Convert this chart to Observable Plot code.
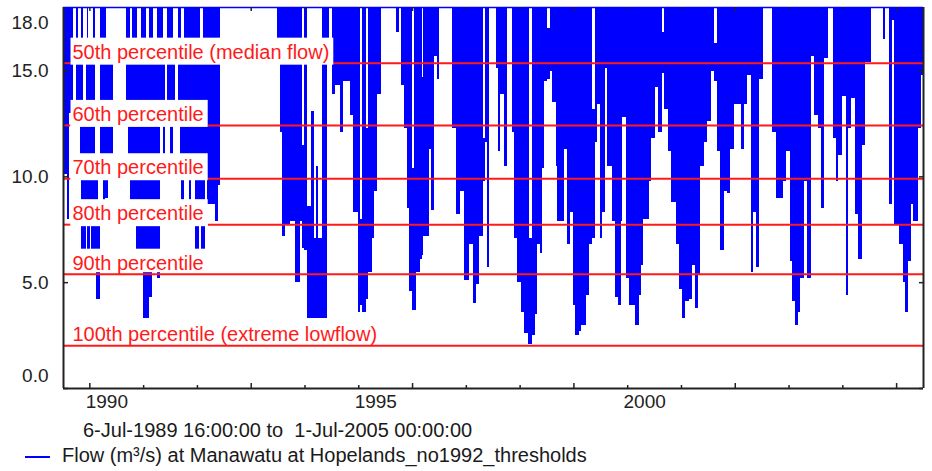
<!DOCTYPE html>
<html><head><meta charset="utf-8">
<script src="https://cdn.jsdelivr.net/npm/d3@7"></script>
<script src="https://cdn.jsdelivr.net/npm/@observablehq/plot@0.6"></script>
<style>
body{margin:0;background:#fff;font-family:"Liberation Sans",Arial,sans-serif;}
#wrap{width:932px;height:471px;position:relative;overflow:hidden;background:#fff}
#chart svg{display:block}
.cap{font-size:20px;line-height:25px;height:25px;color:#1a1a1a;white-space:pre;}
</style></head><body>
<div id="wrap">
<div id="chart"></div>
<div class="cap" id="range" style="padding-left:83px"></div>
<div class="cap" style="display:flex;align-items:flex-start;"><svg width="62" height="25" style="flex:none"><line x1="25" x2="50" y1="14" y2="14" stroke="#0000ff" stroke-width="2"/></svg><span id="series"></span></div>
</div>
<script>
// Flow periods: [start (decimal year), min flow, max flow] (m³/s); null = above the chart
const flowPeriods = [
[1989.51,10.1,18],[1989.58,8.0,18],[1989.62,13.0,18],[1989.70,null,null],[1989.745,15.9,18],
[1989.76,13.0,18],[1989.79,13.0,15.9],[1989.82,10.5,15.9],[1989.85,6.0,18],[1989.88,6.0,13.0],
[1989.93,8.3,15.9],[1989.956,6.0,18],[1989.975,6.0,15.9],[1990.006,8.3,15.9],[1990.037,6.0,15.9],
[1990.068,6.0,18],[1990.111,6.0,10.5],[1990.13,4.2,10.5],[1990.161,4.2,8.3],[1990.192,6.0,15.9],
[1990.204,10.5,18],[1990.253,7.7,18],[1990.284,9.0,18],[1990.315,9.0,15.9],[1990.346,10.5,15.9],
[1990.439,null,null],[1990.687,13.0,18],[1990.718,10.5,18],[1990.749,8.3,15.9],[1990.799,8.3,18],
[1990.861,6.0,18],[1990.885,6.0,15.9],[1990.966,6.0,18],[1990.997,3.3,18],[1991.059,3.3,15.9],
[1991.108,4.3,18],[1991.17,6.0,18],[1991.183,6.0,15.9],[1991.263,5.2,18],[1991.307,13.0,18],
[1991.369,10.5,15.9],[1991.406,null,null],[1991.443,13.0,18],[1991.493,10.5,18],[1991.555,13.0,15.9],
[1991.586,null,null],[1991.648,13.0,18],[1991.679,10.5,18],[1991.71,8.3,15.9],[1991.753,10.5,18],
[1991.846,8.3,18],[1991.895,10.5,18],[1991.957,6.0,18],[1992.038,8.3,18],[1992.05,8.3,15.9],
[1992.081,6.0,15.9],[1992.112,6.0,18],[1992.143,10.5,18],[1992.187,8.7,18],[1992.329,7.9,18],
[1992.391,9.6,18],[1992.422,null,null],
[1993.48,16.0,18],[1993.54,12.1,18],[1993.59,7.2,18],[1993.64,7.7,18],[1993.73,7.9,18],
[1993.82,5.0,18],[1993.91,7.9,18],[1993.95,6.6,11.5],[1993.99,6.5,18],[1994.04,3.3,8.6],
[1994.12,3.3,13.1],[1994.17,3.3,7.1],[1994.21,3.3,10.5],[1994.26,3.3,7.1],[1994.33,3.3,18],
[1994.41,16.0,18],[1994.45,null,null],[1994.52,13.9,18],[1994.57,14.3,18],[1994.66,12.1,18],
[1994.72,14.5,18],[1994.84,12.9,18],[1994.91,8.3,18],[1995.00,3.6,18],[1995.04,3.9,8.0],
[1995.07,3.6,18],[1995.15,4.2,12.3],[1995.19,5.5,18],[1995.25,7.1,18],[1995.30,9.3,18],
[1995.34,13.9,18],[1995.43,null,null],[1995.71,16.8,18],[1995.76,null,null],[1995.80,14.3,18],
[1995.85,12.3,18],
[1995.90,8.5,18],[1995.95,4.6,18],[1995.99,3.7,10.4],[1996.03,3.7,18],[1996.08,5.5,18],
[1996.14,6.1,18],[1996.18,6.3,14.7],[1996.21,7.2,18],[1996.31,11.3,18],[1996.35,8.4,18],
[1996.40,15.7,18],[1996.46,14.6,18],[1996.50,null,null],[1996.74,12.3,18],[1996.82,8.2,18],
[1996.90,9.3,18],[1996.96,5.1,18],[1997.05,6.8,18],[1997.14,4.0,18],[1997.19,4.9,18],
[1997.25,7.2,18],[1997.32,9.8,11.8],[1997.36,11.6,18],[1997.39,5.7,18],[1997.43,null,null],
[1997.56,15.1,18],[1997.60,11.2,18],[1997.64,13.9,18],[1997.71,10.5,18],[1997.76,null,null],
[1997.85,12.1,18],[1997.90,7.1,18],[1997.96,5.0,18],[1998.02,3.6,18],[1998.09,2.6,18],
[1998.15,2.1,18],[1998.18,2.1,7.1],[1998.23,2.5,18],[1998.28,3.5,18],[1998.32,6.8,18],
[1998.37,6.4,18],[1998.42,10.4,18],[1998.46,14.5,18],[1998.51,14.6,17.0],[1998.56,15.0,18],
[1998.61,13.5,18],[1998.67,10.5,18],[1998.70,7.9,18],[1998.82,11.3,18],[1998.88,6.8,18],
[1998.94,8.3,18],[1998.99,3.9,18],[1999.03,2.5,18],
[1999.10,2.7,18],[1999.15,3.0,18],[1999.23,4.4,18],[1999.29,6.8,18],[1999.35,7.1,13.2],
[1999.40,11.6,18],[1999.44,13.4,18],[1999.49,7.1,18],[1999.54,8.3,18],[1999.58,15.1,18],
[1999.63,10.5,18],[1999.72,7.9,18],[1999.77,4.3,18],[1999.83,3.9,18],[1999.88,7.9,18],
[1999.91,12.8,18],[1999.97,5.2,18],[2000.03,3.9,18],[2000.09,3.9,18],[2000.15,3.0,18],
[2000.22,4.4,18],[2000.25,5.8,18],[2000.29,8.0,18],[2000.34,8.0,18],[2000.40,9.8,18],
[2000.45,11.8,18],[2000.51,14.2,18],[2000.58,12.1,18],[2000.64,14.9,16.8],[2000.69,13.2,18],
[2000.76,11.2,18],[2000.81,8.8,18],[2000.90,6.8,18],[2000.96,4.7,18],[2001.02,3.3,18],
[2001.08,4.1,18],[2001.15,4.2,18],[2001.21,5.8,18],[2001.27,3.8,18],[2001.31,5.4,18],
[2001.36,10.5,18],[2001.42,11.6,18],[2001.49,12.6,18],[2001.55,15.0,18],[2001.61,14.5,16.3],
[2001.67,11.2,18],[2001.73,6.5,18],[2001.80,9.3,18],[2001.86,9.2,18],[2001.92,11.3,18],
[2001.98,13.4,18],[2002.04,13.4,18],[2002.11,11.3,18],[2002.17,13.4,18],[2002.23,14.8,18],
[2002.30,5.5,18],[2002.33,8.3,18],[2002.39,5.7,18],[2002.45,14.6,18],[2002.52,null,null],
[2002.70,12.1,18],[2002.76,9.0,18],[2002.82,9.0,18],[2002.89,9.8,18],[2002.95,11.2,18],
[2003.03,6.0,18],[2003.07,4.1,18],[2003.12,3.0,18],[2003.17,3.6,18],[2003.22,5.2,18],
[2003.28,9.8,18],[2003.34,5.2,18],[2003.41,15.7,18],[2003.48,12.9,18],[2003.54,12.3,18],
[2003.60,8.5,18],[2003.66,15.6,18],[2003.74,null,null],[2003.82,11.8,18],[2003.88,9.8,18],
[2003.92,11.0,18],[2004.00,13.8,18],[2004.06,4.4,18],[2004.11,12.3,18],[2004.17,13.7,18],
[2004.23,8.2,18],[2004.29,6.1,18],[2004.37,11.5,18],[2004.43,15.4,18],[2004.53,null,null],
[2004.75,16.5,18],[2004.79,null,null],[2004.87,8.7,18],[2004.93,17.4,18],[2004.97,7.7,18],
[2005.05,6.8,18],[2005.12,5.0,18],[2005.16,3.6,18],[2005.22,6.0,18],[2005.27,8.7,18],
[2005.32,7.9,18],[2005.40,12.3,18],[2005.46,14.8,18]
];
const periodEnd = 2005.50;

const pctValues = [15.37, 12.43, 9.91, 7.74, 5.40, 2.02];
const pctLabels = ["50th percentile (median flow)", "60th percentile", "70th percentile",
  "80th percentile", "90th percentile", "100th percentile (extreme lowflow)"];

const yTickValues = [0, 5, 10, 15, 18];
const yTickLabels = ["0.0", "5.0", "10.0", "15.0", "18.0"];

const yearTicks = [1990,1991,1992,1993,1994,1995,1996,1997,1998,1999,2000,2001,2002,2003,2004,2005];
const yearLabelValues = [1990, 1995, 2000];
const yearLabels = ["1990", "1995", "2000"];

const rangeText = "6-Jul-1989 16:00:00 to  1-Jul-2005 00:00:00";
const seriesName = "Flow (m³/s) at Manawatu at Hopelands_no1992_thresholds";

document.getElementById("range").textContent = rangeText;
document.getElementById("series").textContent = seriesName;

const bars = flowPeriods.map((d, i) => ({
  t0: d[0],
  t1: i + 1 < flowPeriods.length ? flowPeriods[i + 1][0] : periodEnd,
  lo: d[1], hi: d[2]
})).filter(d => d.lo != null);

const pct = pctLabels.map((label, i) => ({label, value: pctValues[i]}));
const yl = yTickValues.map((v, i) => ({v, l: yTickLabels[i]}));
const xl = yearLabelValues.map((v, i) => ({v, l: yearLabels[i]}));
const bigTicks = yearTicks.filter(y => (y - 1990) % 3 === 0);
const smallTicks = yearTicks.filter(y => (y - 1990) % 3 !== 0);

const H = 418, MT = 7, MB = 30, ML = 63, MR = 9, W = 932;
const FH = H - MT - MB, FW = W - ML - MR;
const RED = "#ff1a1a", INK = "#222";

const chart = Plot.plot({
  width: W, height: H,
  marginTop: MT, marginBottom: MB, marginLeft: ML, marginRight: MR,
  x: {type: "linear", domain: [flowPeriods[0][0], periodEnd], axis: null},
  y: {domain: [0, 18], axis: null},
  style: {fontFamily: "Liberation Sans, Arial, sans-serif", background: "white", overflow: "visible"},
  marks: [
    Plot.rect(bars, {x1: "t0", x2: "t1", y1: "lo", y2: "hi", fill: "#0000ff", shapeRendering: "crispEdges"}),
    Plot.ruleY([18], {stroke: "#0000ff", strokeWidth: 1.5}),
    Plot.ruleY(pctValues, {stroke: RED, strokeWidth: 2}),
    Plot.ruleX([flowPeriods[0][0], periodEnd], {stroke: INK, strokeWidth: 2}),
    Plot.ruleY([0], {stroke: INK, strokeWidth: 2}),
    Plot.ruleX(smallTicks, {stroke: INK, strokeWidth: 1.5, insetTop: FH - 3}),
    Plot.ruleX(bigTicks, {stroke: INK, strokeWidth: 1.5, insetTop: FH - 5}),
    Plot.ruleX(smallTicks, {stroke: INK, strokeWidth: 1.5, insetBottom: FH - 2}),
    Plot.ruleX(bigTicks, {stroke: INK, strokeWidth: 1.5, insetBottom: FH - 4}),
    Plot.ruleY([0, 5, 10, 15], {stroke: INK, strokeWidth: 1.5, insetRight: FW - 5}),
    Plot.ruleY([0, 5, 10, 15], {stroke: INK, strokeWidth: 1.5, insetLeft: FW - 4}),
    Plot.text(yl.filter(d => d.v > 0 && d.v < 18), {y: "v", text: "l", frameAnchor: "left", dx: -15, textAnchor: "end", fontSize: 19, fill: INK}),
    Plot.text(yl.filter(d => d.v === 18), {y: "v", text: "l", frameAnchor: "left", dx: -15, dy: 15, textAnchor: "end", fontSize: 19, fill: INK}),
    Plot.text(yl.filter(d => d.v === 0), {y: "v", text: "l", frameAnchor: "left", dx: -15, dy: -13, textAnchor: "end", fontSize: 19, fill: INK}),
    Plot.text(xl, {x: "v", text: "l", frameAnchor: "bottom", dx: 17, dy: 19, fontSize: 19, fill: INK}),
    Plot.text(pct, {y: "value", text: "label", frameAnchor: "left", textAnchor: "start", dx: 9, dy: -11, fontSize: 20, fill: RED})
  ]
});
document.getElementById("chart").append(chart);

// white boxes behind the percentile labels; the 50th-80th lines are hidden under their box
(function () {
  const ns = "http://www.w3.org/2000/svg";
  const svg = chart.tagName.toLowerCase() === "svg" ? chart : chart.querySelector("svg");
  const sr = svg.getBoundingClientRect();
  const gs = Array.from(svg.children).filter(e => e.tagName.toLowerCase() === "g");
  const rulesG = gs[2];
  const lines = rulesG ? Array.from(rulesG.querySelectorAll("line")) : [];
  const yPix = v => MT + (18 - v) / 18 * FH;
  const texts = Array.from(svg.querySelectorAll("text")).filter(t => pctLabels.includes(t.textContent));
  if (!texts.length) return;
  const textG = texts[0].parentNode;
  const g = document.createElementNS(ns, "g");
  texts.forEach(t => {
    const i = pctLabels.indexOf(t.textContent);
    const b = t.getBoundingClientRect();
    const ly = yPix(pctValues[i]);
    const x0 = b.left - sr.left - 2, x1 = b.left - sr.left + b.width + 4;
    const r = document.createElementNS(ns, "rect");
    r.setAttribute("x", x0);
    r.setAttribute("width", x1 - x0);
    r.setAttribute("y", ly - 25);
    r.setAttribute("height", i < 4 ? 27 : 23.5);
    r.setAttribute("fill", "white");
    g.append(r);
    if (i < 4 && lines.length === pctValues.length) {
      const ln = lines[i];
      const stub = ln.cloneNode(true);
      stub.setAttribute("x2", x0);
      ln.setAttribute("x1", x1);
      ln.parentNode.append(stub);
    }
  });
  textG.parentNode.insertBefore(g, textG);
})();
</script>
</body></html>
